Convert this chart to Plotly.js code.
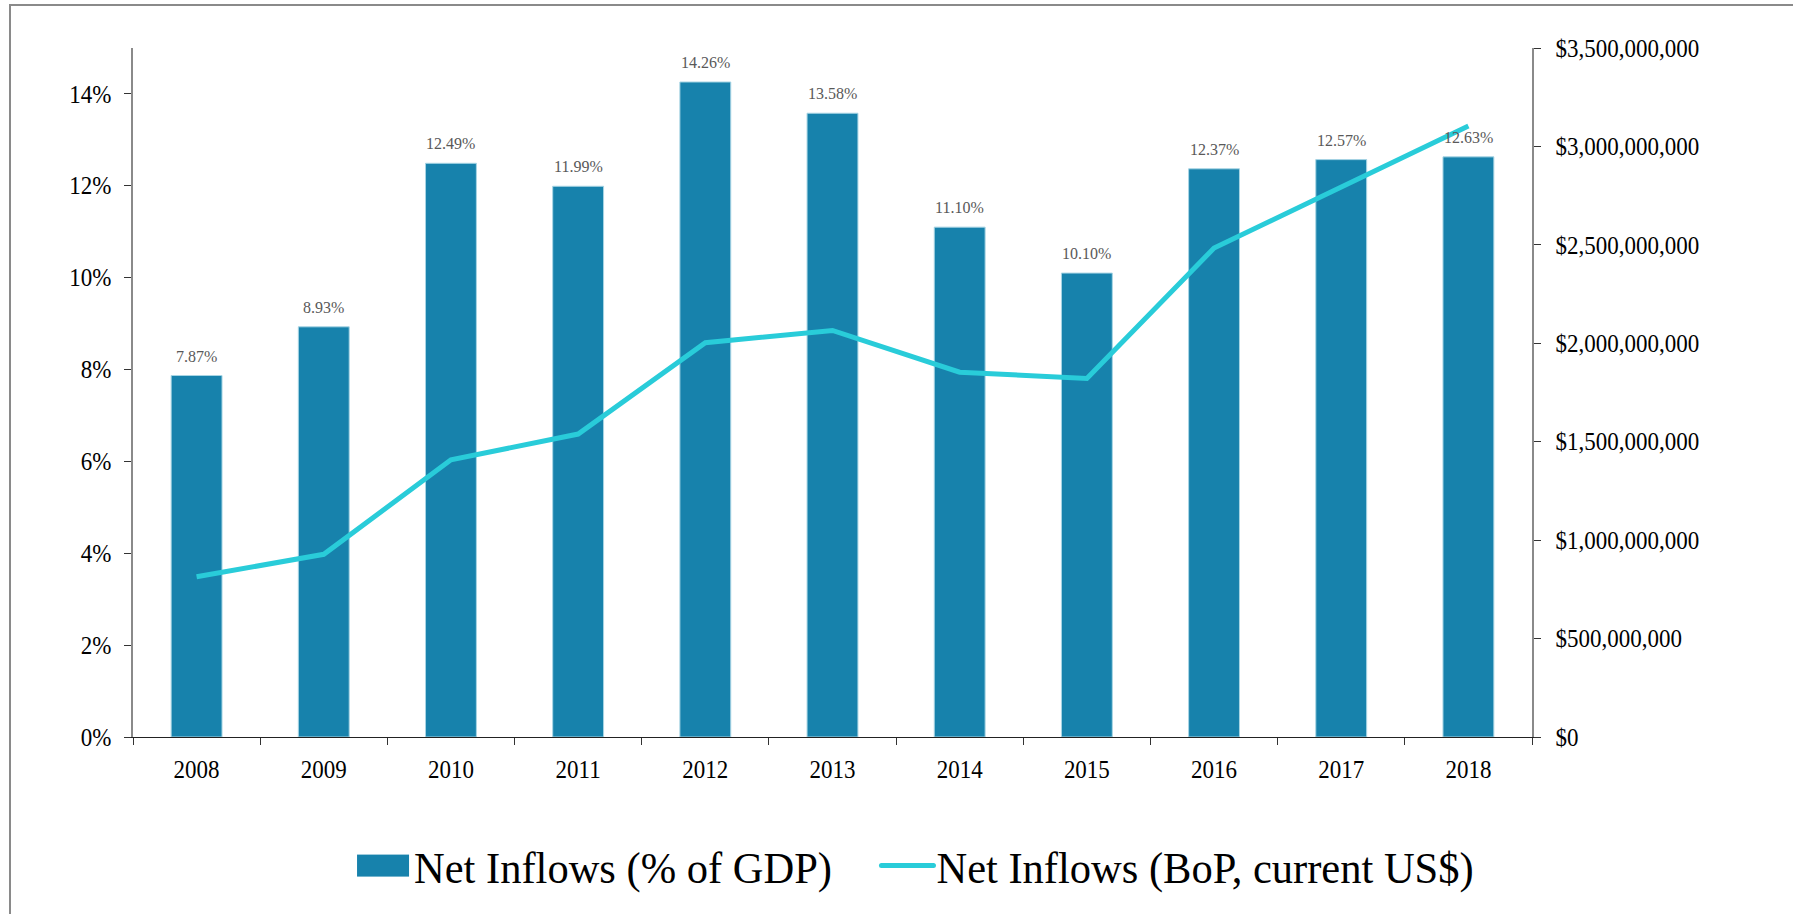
<!DOCTYPE html>
<html>
<head>
<meta charset="utf-8">
<script src="https://cdn.plot.ly/plotly-3.0.1.min.js"></script>
<style>
  html, body { margin: 0; padding: 0; background: #fff; overflow: hidden; }
  #chart { width: 1793px; height: 914px; }
  #frame { position: absolute; left: 9px; top: 4px; width: 3000px; height: 3000px;
           border-left: 2px solid #8a8a8a; border-top: 2px solid #8a8a8a; pointer-events: none; }
</style>
</head>
<body>
<div id="chart"></div>
<div id="frame"></div>
<script>
// ---- data ----
const years = ['2008','2009','2010','2011','2012','2013','2014','2015','2016','2017','2018'];
const pctOfGDP = [7.87, 8.93, 12.49, 11.99, 14.26, 13.58, 11.10, 10.10, 12.37, 12.57, 12.63];
const inflowsUSD = [0.814e9, 0.928e9, 1.408e9, 1.539e9, 2.003e9, 2.065e9, 1.853e9, 1.821e9, 2.484e9, 2.792e9, 3.104e9];
const seriesNames = ['Net Inflows (% of GDP)', 'Net Inflows (BoP, current US$)'];

const FONT = 'Liberation Serif, Times New Roman, serif';
const BAR = '#1782AC';
const LINE = '#29CCD9';

const barTrace = {
  type: 'bar', name: seriesNames[0],
  x: years, y: pctOfGDP.map(v => v / 100),
  marker: { color: BAR, line: { color: '#a8d5e4', width: 1 } }
};
const lineTrace = {
  type: 'scatter', mode: 'lines', name: seriesNames[1],
  x: years, y: inflowsUSD, yaxis: 'y2',
  line: { color: LINE, width: 5 }
};

// category axis: annotation x uses the category's serial index
const annotations = years.map((yr, i) => ({
  x: i, y: pctOfGDP[i] / 100, xref: 'x', yref: 'y',
  text: pctOfGDP[i].toFixed(2) + '%', showarrow: false,
  yanchor: 'bottom', yshift: 9,
  font: { family: FONT, size: 16, color: '#595959' }
}));

const tickFont = { family: FONT, size: 23, color: '#000' };

const layout = {
  width: 1793, height: 914,
  margin: { l: 133, r: 261, t: 48, b: 170, pad: 0 },
  paper_bgcolor: '#fff', plot_bgcolor: '#fff',
  font: { family: FONT },
  bargap: 0.6,
  showlegend: true,
  legend: {
    orientation: 'h', x: 0.158, xanchor: 'left', y: -0.187, yanchor: 'middle',
    font: { family: FONT, size: 45, color: '#000' },
    itemwidth: 50, bgcolor: 'rgba(0,0,0,0)'
  },
  xaxis: {
    type: 'category', range: [-0.5, 10.5],
    tickson: 'boundaries', ticks: 'outside', ticklen: 7, tickcolor: '#333', tickwidth: 1,
    showline: true, linecolor: '#222', linewidth: 1,
    showgrid: false, zeroline: false, tickfont: tickFont, ticklabelstandoff: 12
  },
  yaxis: {
    range: [0, 0.15], tick0: 0, dtick: 0.02, tickformat: '.0%',
    ticks: 'outside', ticklen: 7, tickcolor: '#333', tickwidth: 1,
    showline: true, linecolor: '#8a8a8a', linewidth: 2,
    showgrid: false, zeroline: false, tickfont: tickFont, ticklabelstandoff: 8
  },
  yaxis2: {
    overlaying: 'y', side: 'right', anchor: 'x',
    range: [0, 3.5e9], tick0: 0, dtick: 5e8, tickprefix: '$', tickformat: ',.0f',
    ticks: 'outside', ticklen: 7, tickcolor: '#333', tickwidth: 1,
    showline: true, linecolor: '#8a8a8a', linewidth: 2,
    showgrid: false, zeroline: false, tickfont: tickFont, ticklabelstandoff: 10
  },
  annotations: annotations
};

function scaleText(el, sx, sy, anchorLeft) {
  const bb = el.getBBox();
  const cx = anchorLeft ? bb.x : bb.x + bb.width / 2;
  const cy = bb.y + bb.height / 2;
  const prev = el.getAttribute('transform') || '';
  el.setAttribute('transform', prev + ' translate(' + cx + ',' + cy + ') scale(' + sx + ',' + sy + ') translate(' + (-cx) + ',' + (-cy) + ')');
}

function finish() {
  const NS = 'http://www.w3.org/2000/svg';
  document.querySelectorAll('.legend .traces').forEach((tr, i) => {
    const text = tr.querySelector('.legendtext');
    if (!text) return;
    const tx = parseFloat(text.getAttribute('x')) || 0;
    const layers = tr.querySelector('.layers');
    if (layers) layers.style.display = 'none';
    if (i === 0) {
      const r = document.createElementNS(NS, 'rect');
      r.setAttribute('x', tx - 5 - 52); r.setAttribute('y', -11);
      r.setAttribute('width', 52); r.setAttribute('height', 22);
      r.setAttribute('fill', BAR);
      tr.appendChild(r);
    } else {
      tr.setAttribute('transform', (tr.getAttribute('transform') || '') + ' translate(15,0)');
      const l = document.createElementNS(NS, 'line');
      l.setAttribute('x1', tx - 3 - 52); l.setAttribute('x2', tx - 3);
      l.setAttribute('y1', 0); l.setAttribute('y2', 0);
      l.setAttribute('stroke', LINE); l.setAttribute('stroke-width', 5);
      l.setAttribute('stroke-linecap', 'round');
      tr.appendChild(l);
    }
    scaleText(text, 0.945, 1, true);
  });
  document.querySelectorAll('.xtick text, .ytick text, .y2tick text').forEach(t => scaleText(t, 1, 1.08, false));
}

Plotly.newPlot('chart', [barTrace, lineTrace], layout, { displayModeBar: false, staticPlot: true })
  .then(finish);
</script>
</body>
</html>
